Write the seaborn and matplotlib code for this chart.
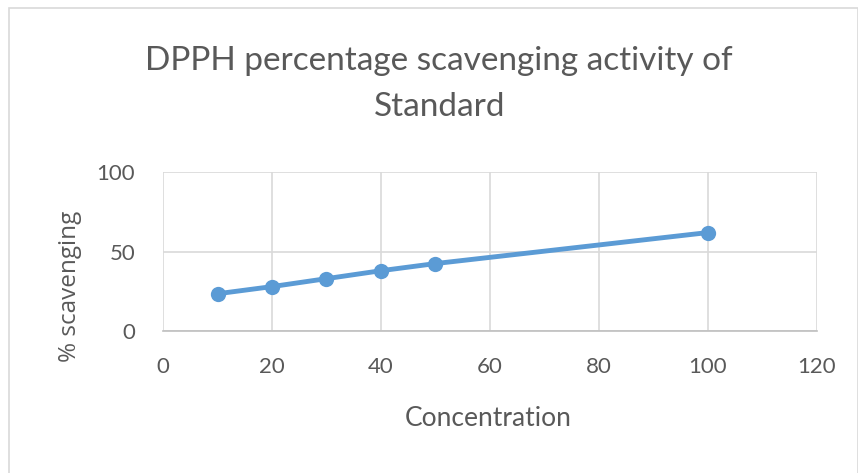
import matplotlib
matplotlib.use('Agg')
import matplotlib.pyplot as plt
import seaborn as sns
import pandas as pd
from matplotlib.patches import Rectangle

# Datos
concentracion = [10, 20, 30, 40, 50, 100]
scavenging = [23.5, 28, 33, 38, 42.5, 62]
x_ticks = [0, 20, 40, 60, 80, 100, 120]
y_ticks = [0, 50, 100]

df = pd.DataFrame({'Concentration': concentracion, 'scavenging': scavenging})

sns.set_theme(style='white')
plt.rcParams['font.family'] = ['Lato', 'DejaVu Sans']

azul = '#5B9BD5'
gris_txt = '#595959'
gris_grid = '#D9D9D9'

fig = plt.figure(figsize=(8.58, 4.73), dpi=100)
ax = fig.add_axes([0.19, 0.30, 0.762, 0.336])

sns.lineplot(data=df, x='Concentration', y='scavenging', ax=ax, color=azul,
             linewidth=3.5, marker='o', markersize=11, markeredgewidth=0)

ax.set_xlim(0, 120)
ax.set_ylim(0, 100)
ax.set_xticks(x_ticks)
ax.set_yticks(y_ticks)
ax.grid(True, color=gris_grid, linewidth=1.2)
for lado in ['top', 'right', 'left']:
    ax.spines[lado].set_visible(False)
ax.spines['bottom'].set_color('#BFBFBF')
ax.spines['bottom'].set_linewidth(1.2)
ax.tick_params(axis='both', length=0, labelsize=16, labelcolor=gris_txt)
ax.tick_params(axis='x', pad=19)
ax.tick_params(axis='y', pad=20)

ax.set_xlabel('')
ax.set_ylabel('')
fig.text(0.569, 0.115, 'Concentration', ha='center', va='center',
         fontsize=19, color=gris_txt)
fig.text(0.082, 0.395, '% scavenging', ha='center', va='center', rotation=90,
         fontsize=17.5, color=gris_txt, fontfamily=['Open Sans', 'DejaVu Sans'])

fig.text(0.512, 0.822, 'DPPH percentage scavenging activity of\nStandard',
         ha='center', va='center', fontsize=24, color=gris_txt, linespacing=1.65)

# borde del area del grafico
fig.patches.append(Rectangle((0.01, -0.01), 0.99, 0.993, transform=fig.transFigure,
                             fill=False, edgecolor='#D9D9D9', linewidth=1.2))

plt.savefig('out.png', dpi=100)
